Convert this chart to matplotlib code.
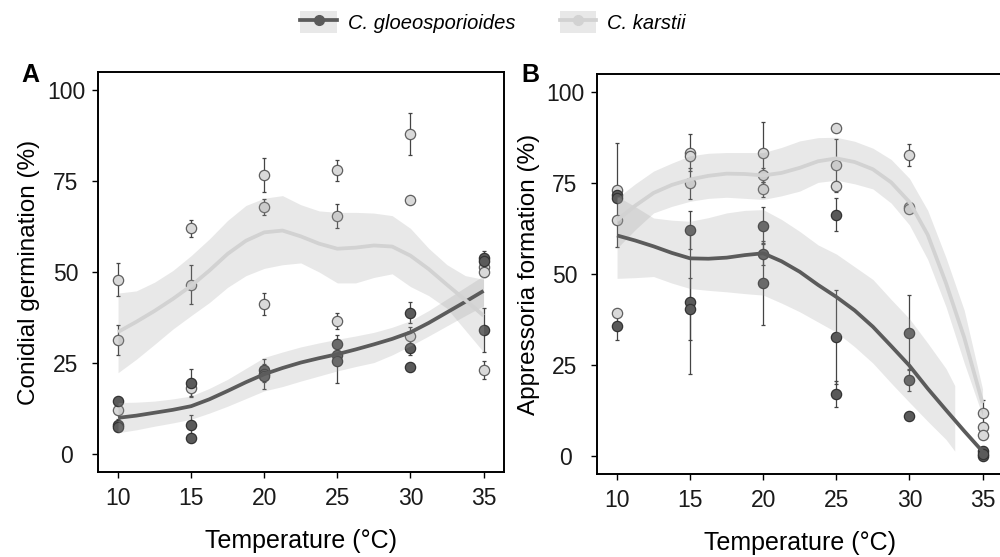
import matplotlib
matplotlib.use("Agg")
import matplotlib.pyplot as plt
from matplotlib.lines import Line2D
from matplotlib.patches import Rectangle

plt.rcParams['font.family'] = ['Liberation Sans', 'DejaVu Sans']

# ---- raw points (A: conidial germination, B: appressoria formation) ----
temps_pts = [10, 10, 10, 15, 15, 15, 20, 20, 20, 25, 25, 25, 30, 30, 30, 35, 35, 35]

kar_A = [47.9, 31.3, 12.0, 62.0, 46.5, 18.0, 76.7, 67.9, 41.3, 78.0, 65.4, 36.5, 87.9, 69.9, 32.3, 51.5, 50.0, 23.1]
kar_A_err = [4.6, 4.1, 1.0, 2.3, 5.3, 2.5, 4.7, 2.2, 3.0, 2.9, 3.4, 2.1, 5.7, 1.0, 2.5, 2.0, 1.5, 2.5]
glo_A = [14.5, 8.0, 7.5, 19.5, 7.9, 4.4, 23.0, 22.0, 21.3, 30.2, 27.3, 25.4, 38.8, 29.1, 24.0, 53.8, 53.0, 34.0]
glo_A_err = [1.0, 1.5, 1.2, 3.7, 2.9, 0.5, 3.2, 1.5, 3.5, 2.5, 2.0, 6.0, 2.9, 2.0, 1.0, 2.0, 1.5, 6.0]

kar_B = [73.0, 64.8, 39.4, 83.4, 82.5, 74.9, 83.2, 77.2, 73.3, 90.2, 80.1, 74.1, 82.8, 68.3, 68.0, 11.9, 8.0, 5.6]
kar_B_err = [1.0, 1.0, 1.0, 5.1, 1.5, 4.2, 8.5, 2.0, 2.0, 1.0, 7.1, 1.5, 3.0, 1.0, 1.0, 3.5, 1.0, 1.0]
glo_B = [71.7, 71.0, 35.7, 62.1, 42.3, 40.4, 63.3, 55.5, 47.5, 66.3, 32.7, 17.0, 33.9, 20.8, 11.0, 1.3, 0.0, 0.5]
glo_B_err = [14.2, 1.0, 3.8, 5.3, 19.8, 8.5, 5.0, 3.0, 11.6, 4.5, 13.0, 3.7, 10.3, 3.0, 1.0, 1.0, 0.5, 0.5]

# ---- smoothed fits with confidence band ----
fit_temp = [10, 11.25, 12.5, 13.75, 15, 16.25, 17.5, 18.75, 20, 21.25, 22.5,
            23.75, 25, 26.25, 27.5, 28.75, 30, 31.25, 32.5, 33.75, 35]

kar_A_fit = [33.5, 36.3, 39.3, 42.6, 46.2, 50.4, 55.0, 58.6, 60.9, 61.4, 59.8,
             57.8, 56.4, 56.7, 57.3, 57.0, 54.5, 50.8, 46.5, 42.3, 38.0]
kar_A_hi = [44.2, 44.8, 47.2, 50.4, 54.5, 59.1, 64.2, 68.3, 70.3, 71.0, 68.5,
            66.8, 66.4, 66.4, 66.2, 65.5, 62.0, 56.5, 52.0, 49.0, 48.0]
kar_A_lo = [22.3, 26.0, 30.1, 34.3, 38.0, 41.6, 45.8, 49.0, 51.0, 52.0, 52.5,
            50.0, 47.0, 47.0, 48.5, 49.5, 46.0, 43.5, 40.0, 34.0, 28.0]

glo_A_fit = [9.9, 10.5, 11.3, 12.1, 13.1, 15.0, 17.3, 19.7, 21.9, 23.6, 25.1,
             26.3, 27.4, 28.7, 30.1, 31.6, 33.4, 36.0, 38.9, 41.8, 44.8]
glo_A_hi = [14.1, 14.2, 14.5, 15.1, 15.9, 18.0, 20.5, 23.5, 26.5, 28.0, 29.4,
            30.5, 31.5, 32.4, 33.4, 34.8, 36.6, 39.4, 42.6, 45.8, 49.0]
glo_A_lo = [5.8, 6.6, 7.6, 8.5, 9.5, 11.2, 13.1, 15.2, 17.3, 18.5, 20.0,
            21.4, 22.8, 24.0, 25.1, 27.2, 29.7, 32.4, 35.2, 38.0, 40.7]

kar_B_fit = [64.8, 68.8, 72.3, 74.5, 76.0, 77.0, 77.6, 77.5, 77.1, 77.8, 79.2,
             81.0, 81.8, 80.8, 78.8, 75.2, 69.8, 60.8, 47.5, 32.5, 14.5]
kar_B_hi = [70.9, 74.8, 78.3, 80.5, 82.5, 83.2, 83.4, 83.4, 83.4, 84.8, 86.6,
            87.5, 87.6, 86.5, 84.6, 81.5, 76.3, 67.5, 54.5, 40.0, 18.4]
kar_B_lo = [57.1, 62.2, 66.8, 68.6, 70.0, 70.8, 71.1, 70.8, 70.5, 71.5, 72.8,
            75.2, 75.8, 74.8, 73.4, 69.5, 63.5, 54.0, 41.0, 25.5, 11.0]

glo_B_fit = [60.6, 59.2, 57.6, 55.8, 54.3, 54.2, 54.5, 55.2, 55.7, 53.5, 50.6,
             47.0, 43.7, 40.0, 35.5, 30.2, 24.8, 18.5, 12.6, 6.8, 1.2]
# band stops where its lower edge leaves the axis range
glo_B_band_temp = [10, 11.25, 12.5, 13.75, 15, 16.25, 17.5, 18.75, 20, 21.25, 22.5,
                   23.75, 25, 26.25, 27.5, 28.75, 30, 31.25, 32.5, 33.1]
glo_B_hi = [71.4, 68.5, 65.4, 64.8, 64.5, 65.5, 66.8, 67.5, 67.7, 65.0, 61.7,
            58.0, 55.5, 52.0, 48.5, 43.0, 37.7, 31.0, 24.0, 19.3]
glo_B_lo = [48.8, 49.0, 49.3, 47.5, 46.0, 45.5, 45.1, 44.6, 44.2, 42.0, 39.6,
            36.8, 34.0, 30.0, 25.5, 20.0, 14.7, 9.5, 4.5, 1.3]

x_ticks = [10, 15, 20, 25, 30, 35]
y_ticks = [0, 25, 50, 75, 100]

DARK = '#5a5a5a'
DARK_EDGE = '#333333'
LIGHT = '#d9d9d9'
LIGHT_EDGE = '#5f5f5f'
DARK_LINE = '#5b5b5b'
LIGHT_LINE = '#d2d2d2'
BAND = '#a0a0a0'


def draw_points(ax, vals, errs, fill, edge):
    ax.errorbar(temps_pts, vals, yerr=errs, fmt='none', ecolor='#444444',
                elinewidth=0.9, capsize=1.6, capthick=0.9, zorder=2)
    ax.plot(temps_pts, vals, 'o', ms=7.4, mfc=fill, mec=edge, mew=0.9,
            linestyle='none', zorder=2.5)


def draw_fit(ax, band_t, lo, hi, fit, color):
    ax.fill_between(band_t, lo, hi, color=BAND, alpha=0.24, lw=0, zorder=3)
    ax.plot(fit_temp, fit, color=color, lw=2.7, solid_capstyle='butt', zorder=4)


def style_axis(ax, ylabel, ylab_x):
    ax.set_xlim(8.63, 36.4)
    ax.set_ylim(-5, 105)
    ax.set_xticks(x_ticks)
    ax.set_yticks(y_ticks)
    for s in ax.spines.values():
        s.set_linewidth(1.4)
        s.set_color('black')
    ax.tick_params(axis='both', length=4, width=1.0, color='black',
                   labelsize=16.5, labelcolor='#1a1a1a')
    ax.tick_params(axis='x', pad=7)
    ax.tick_params(axis='y', pad=19)
    for t in ax.yaxis.get_major_ticks():
        t.label1.set_horizontalalignment('center')
    ax.set_xlabel('Temperature (°C)', fontsize=18)
    ax.set_ylabel(ylabel, fontsize=17.5)
    ax.xaxis.set_label_coords(0.5, -0.143)
    ax.yaxis.set_label_coords(ylab_x, 0.5)


fig = plt.figure(figsize=(10, 5.57), dpi=100)

axA = fig.add_axes([0.098, 1 - 472 / 557, 0.406, 400 / 557])
axB = fig.add_axes([0.597, 1 - 474 / 557, 0.406, 400 / 557])

# panel A
draw_points(axA, kar_A, kar_A_err, LIGHT, LIGHT_EDGE)
draw_points(axA, glo_A, glo_A_err, DARK, DARK_EDGE)
draw_fit(axA, fit_temp, glo_A_lo, glo_A_hi, glo_A_fit, DARK_LINE)
draw_fit(axA, fit_temp, kar_A_lo, kar_A_hi, kar_A_fit, LIGHT_LINE)
style_axis(axA, 'Conidial germination (%)', -0.143)

# panel B
draw_points(axB, kar_B, kar_B_err, LIGHT, LIGHT_EDGE)
draw_points(axB, glo_B, glo_B_err, DARK, DARK_EDGE)
draw_fit(axB, glo_B_band_temp, glo_B_lo, glo_B_hi, glo_B_fit, DARK_LINE)
draw_fit(axB, fit_temp, kar_B_lo, kar_B_hi, kar_B_fit, LIGHT_LINE)
style_axis(axB, 'Appressoria formation (%)', -0.140)

fig.text(0.021, 1 - 75 / 557, 'A', fontsize=18, fontweight='bold', ha='left', va='center')
fig.text(0.521, 1 - 75 / 557, 'B', fontsize=18, fontweight='bold', ha='left', va='center')

# legend
key_bg = '#e8e8e8'
h_glo = (Rectangle((0, 0), 1, 1, facecolor=key_bg, edgecolor='none'),
         Line2D([], [], color=DARK_LINE, lw=2.7, marker='o', ms=7, mfc=DARK, mec=DARK))
h_kar = (Rectangle((0, 0), 1, 1, facecolor=key_bg, edgecolor='none'),
         Line2D([], [], color=LIGHT_LINE, lw=2.7, marker='o', ms=7, mfc=LIGHT_LINE, mec=LIGHT_LINE))
fig.legend([h_glo, h_kar], ['C. gloeosporioides', 'C. karstii'],
           loc='center', bbox_to_anchor=(0.493, 1 - 22 / 557), ncol=2, frameon=False,
           prop={'style': 'italic', 'size': 14.5}, handlelength=1.8, handleheight=1.3,
           handletextpad=0.55, columnspacing=2.2, borderpad=0)

fig.savefig('out.png', dpi=100)
